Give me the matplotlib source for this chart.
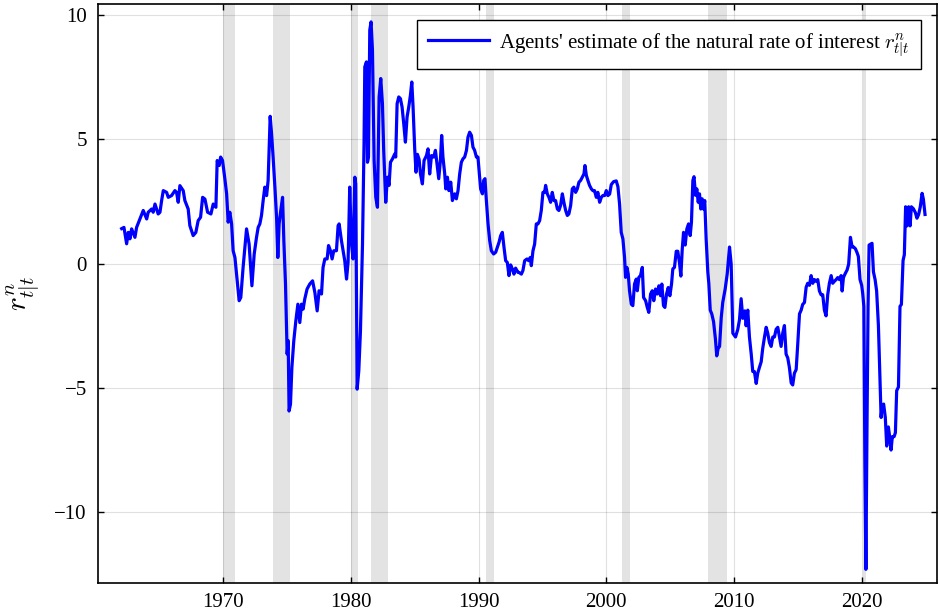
import matplotlib
matplotlib.use("Agg")
import matplotlib.pyplot as plt

plt.rcParams['font.family'] = ['Liberation Serif', 'DejaVu Serif']
plt.rcParams['mathtext.fontset'] = 'cm'

dates = [
    1962.05, 1962.23, 1962.44, 1962.57, 1962.70, 1962.83, 1963.09, 1963.22, 1963.48, 1963.74,
    1964.01, 1964.13, 1964.40, 1964.52, 1964.66, 1964.91, 1965.05, 1965.18, 1965.31, 1965.57,
    1965.70, 1965.96, 1966.22, 1966.35, 1966.48, 1966.61, 1966.87, 1967.00, 1967.26, 1967.39,
    1967.65, 1967.86, 1968.04, 1968.23, 1968.39, 1968.57, 1968.78, 1969.04, 1969.22, 1969.43,
    1969.53, 1969.69, 1969.80, 1969.95,
    1970.13, 1970.27, 1970.39, 1970.52, 1970.66, 1970.78, 1970.92, 1971.05, 1971.25, 1971.38,
    1971.56, 1971.83, 1972.03, 1972.25, 1972.43, 1972.61, 1972.74, 1972.87, 1973.00, 1973.13,
    1973.26, 1973.40, 1973.52, 1973.68, 1973.79, 1973.91, 1974.05, 1974.18, 1974.28, 1974.38,
    1974.51, 1974.65, 1974.75, 1974.88, 1975.01, 1975.09, 1975.16, 1975.27, 1975.38, 1975.53,
    1975.69, 1975.85, 1976.00, 1976.13, 1976.26, 1976.39, 1976.57, 1976.78, 1977.00, 1977.18,
    1977.36, 1977.51, 1977.70, 1977.82, 1977.96, 1978.14, 1978.25, 1978.40, 1978.53, 1978.66,
    1978.87, 1979.00, 1979.08, 1979.26, 1979.39, 1979.52, 1979.66, 1979.78, 1979.91, 1980.05,
    1980.17, 1980.31, 1980.38, 1980.49, 1980.62, 1980.75, 1980.91, 1981.03, 1981.09, 1981.22,
    1981.30, 1981.38, 1981.48, 1981.58, 1981.69, 1981.82, 1981.95, 1982.08, 1982.21, 1982.34,
    1982.47, 1982.57, 1982.73, 1982.86, 1982.99, 1983.10, 1983.26, 1983.44, 1983.51, 1983.62,
    1983.75, 1983.88, 1984.01, 1984.14, 1984.27, 1984.40, 1984.53, 1984.66, 1984.77, 1984.87,
    1985.00, 1985.10, 1985.21, 1985.34, 1985.45, 1985.60, 1985.73, 1985.92, 1986.04, 1986.17,
    1986.31, 1986.49, 1986.62, 1986.74, 1986.88, 1987.01, 1987.11, 1987.21, 1987.35, 1987.43,
    1987.56, 1987.68, 1987.82, 1987.95, 1988.13, 1988.26, 1988.39, 1988.52, 1988.65, 1988.78,
    1988.91, 1989.05, 1989.17, 1989.30, 1989.44, 1989.56, 1989.69, 1989.83, 1989.95, 1990.03,
    1990.16, 1990.30, 1990.40, 1990.50, 1990.61, 1990.74, 1990.87, 1991.00, 1991.18, 1991.34,
    1991.47, 1991.60, 1991.73, 1991.86, 1991.99, 1992.12, 1992.25, 1992.38, 1992.51, 1992.64,
    1992.77, 1992.90, 1993.08, 1993.16, 1993.35, 1993.47, 1993.61, 1993.79, 1993.92, 1994.05,
    1994.13, 1994.26, 1994.39, 1994.52, 1994.65, 1994.78, 1994.91, 1995.04, 1995.17, 1995.25,
    1995.38, 1995.51, 1995.64, 1995.77, 1995.90, 1996.03, 1996.17, 1996.29, 1996.42, 1996.56,
    1996.68, 1996.82, 1996.95, 1997.07, 1997.21, 1997.34, 1997.46, 1997.60, 1997.73, 1997.86,
    1997.99, 1998.12, 1998.25, 1998.33, 1998.44, 1998.56, 1998.69, 1998.83, 1998.95, 1999.08,
    1999.22, 1999.34, 1999.48, 1999.61, 1999.73, 1999.87, 2000.00, 2000.13, 2000.26, 2000.39,
    2000.57, 2000.78, 2000.91, 2001.04, 2001.17, 2001.30, 2001.43, 2001.51, 2001.61, 2001.72,
    2001.82, 2001.96, 2002.08, 2002.21, 2002.35, 2002.43, 2002.55, 2002.68, 2002.82, 2002.92,
    2003.08, 2003.21, 2003.33, 2003.47, 2003.60, 2003.72, 2003.86, 2003.99, 2004.12, 2004.25,
    2004.35, 2004.48, 2004.59, 2004.72, 2004.85, 2004.98, 2005.11, 2005.21, 2005.34, 2005.48,
    2005.60, 2005.74, 2005.84, 2005.95, 2006.05, 2006.18, 2006.31, 2006.44, 2006.57, 2006.67,
    2006.78, 2006.87, 2006.99, 2007.09, 2007.20, 2007.30, 2007.40, 2007.51, 2007.61, 2007.71,
    2007.82, 2007.95, 2008.03, 2008.14, 2008.26, 2008.40, 2008.55, 2008.65, 2008.76, 2008.87,
    2009.00, 2009.12, 2009.31, 2009.47, 2009.65, 2009.78, 2009.91, 2010.12, 2010.30, 2010.43,
    2010.56, 2010.69, 2010.85, 2010.95, 2011.08, 2011.21, 2011.35, 2011.47, 2011.60, 2011.74,
    2011.86, 2011.99, 2012.13, 2012.25, 2012.39, 2012.52, 2012.64, 2012.78, 2012.91, 2013.04,
    2013.17, 2013.30, 2013.43, 2013.56, 2013.69, 2013.82, 2013.95, 2014.08, 2014.21, 2014.34,
    2014.48, 2014.60, 2014.73, 2014.87, 2014.99, 2015.13, 2015.26, 2015.38, 2015.52, 2015.65,
    2015.77, 2015.91, 2016.04, 2016.17, 2016.30, 2016.43, 2016.56, 2016.69, 2016.82, 2016.95,
    2017.08, 2017.21, 2017.34, 2017.47, 2017.61, 2017.73, 2017.86, 2018.00, 2018.12, 2018.25,
    2018.39, 2018.47, 2018.57, 2018.70, 2018.86, 2018.98, 2019.12, 2019.25, 2019.37, 2019.51,
    2019.64, 2019.74, 2019.87, 2020.00, 2020.08, 2020.17, 2020.25, 2020.33, 2020.42, 2020.50,
    2020.58, 2020.81, 2020.92, 2021.05, 2021.17, 2021.31, 2021.44, 2021.52, 2021.60, 2021.72,
    2021.85, 2021.96, 2022.09, 2022.19, 2022.30, 2022.40, 2022.54, 2022.64, 2022.74, 2022.88,
    2023.00, 2023.11, 2023.24, 2023.34, 2023.44, 2023.55, 2023.68, 2023.79, 2023.89, 2024.05,
    2024.20, 2024.33, 2024.46, 2024.59, 2024.73, 2024.83, 2024.96,
]

r_natural = [
    1.41, 1.46, 0.80, 1.26, 1.00, 1.40, 1.06, 1.46, 1.80, 2.14,
    1.80, 2.07, 2.20, 2.07, 2.40, 2.00, 2.07, 2.54, 2.94, 2.87,
    2.67, 2.74, 2.94, 2.87, 2.47, 3.14, 2.94, 2.54, 2.20, 1.53,
    1.13, 1.26, 1.73, 1.87, 2.67, 2.60, 2.07, 2.00, 2.40, 2.27,
    4.15, 3.95, 4.29, 4.15,
    3.42, 2.81, 1.67, 2.07, 1.60, 0.52, 0.25, -0.42, -1.49, -1.36,
    -0.15, 1.40, 0.79, -0.89, 0.39, 1.06, 1.46, 1.60, 1.94, 2.54,
    3.08, 2.74, 3.35, 5.93, 5.23, 4.29, 3.08, 1.87, 0.25, 1.60,
    2.14, 2.67, 0.93, -0.82, -3.64, -3.10, -5.93, -5.66, -4.18, -3.10,
    -2.30, -1.63, -2.37, -1.63, -1.83, -1.42, -1.02, -0.82, -0.69, -1.16,
    -1.90, -1.09, -1.22, -0.15, 0.19, 0.19, 0.73, 0.52, 0.19, 0.52,
    0.52, 1.53, 1.60, 0.93, 0.52, 0.12, -0.62, 0.05, 3.08, 0.79,
    0.19, 3.48, 3.21, -5.05, -4.31, -2.70, 0.79, 4.83, 7.92, 8.12,
    4.08, 4.29, 9.40, 9.73, 8.59, 4.15, 2.67, 2.27, 6.71, 7.45,
    6.44, 4.56, 2.47, 3.48, 3.15, 4.08, 4.22, 4.42, 4.29, 6.44,
    6.71, 6.64, 6.30, 5.63, 4.89, 5.90, 6.30, 6.77, 7.31, 6.30,
    4.60, 3.68, 4.40, 4.20, 3.61, 3.21, 4.15, 4.35, 4.62, 3.61,
    4.35, 4.29, 4.56, 4.02, 3.42, 4.15, 5.16, 4.29, 3.61, 3.01,
    3.48, 2.94, 3.28, 2.54, 2.81, 2.61, 2.94, 3.61, 4.08, 4.22,
    4.29, 4.56, 5.09, 5.29, 5.16, 4.69, 4.56, 4.29, 4.29, 3.82,
    3.01, 2.81, 3.35, 3.42, 2.54, 1.60, 0.93, 0.52, 0.39, 0.46,
    0.66, 0.86, 1.13, 1.26, 0.66, 0.12, 0.05, -0.48, -0.05, -0.21,
    -0.42, -0.18, -0.35, -0.35, -0.42, -0.28, 0.12, 0.19, 0.12, 0.25,
    -0.08, 0.52, 0.79, 1.60, 1.60, 1.73, 2.14, 2.87, 2.87, 3.15,
    2.81, 2.67, 2.47, 2.87, 2.54, 2.54, 2.20, 2.14, 2.34, 2.81,
    2.47, 2.14, 1.94, 2.00, 2.34, 3.01, 3.08, 2.87, 3.01, 3.28,
    3.35, 3.48, 3.61, 3.95, 3.55, 3.35, 3.15, 3.01, 2.94, 2.94,
    2.67, 2.87, 2.47, 2.67, 2.74, 2.74, 2.94, 2.74, 2.80, 3.18,
    3.30, 3.33, 3.10, 2.40, 1.26, 1.00, 0.25, -0.55, -0.15, -0.42,
    -1.09, -1.63, -1.69, -0.82, -0.62, -1.09, -0.55, -0.48, -0.15, -1.36,
    -1.49, -1.76, -1.96, -1.22, -1.09, -1.49, -1.02, -1.22, -0.89, -1.29,
    -0.82, -1.69, -1.76, -1.22, -0.96, -1.29, -0.82, -0.21, -0.15, 0.50,
    0.50, 0.00, -0.50, 0.60, 1.26, 0.75, 1.40, 1.60, 1.13, 1.67,
    3.35, 3.50, 2.75, 3.01, 2.47, 2.81, 2.20, 2.61, 2.20, 2.54,
    1.00, -0.33, -0.80, -1.87, -2.02, -2.33, -3.05, -3.71, -3.41, -3.33,
    -2.18, -1.56, -1.02, -0.41, 0.67, -0.02, -2.80, -2.95, -2.64, -2.26,
    -1.41, -2.20, -1.90, -2.50, -1.87, -2.95, -3.64, -4.34, -4.34, -4.82,
    -4.41, -4.18, -3.95, -3.41, -2.95, -2.56, -2.79, -3.18, -3.33, -2.95,
    -2.95, -2.64, -2.56, -2.95, -3.33, -2.79, -2.49, -3.64, -3.79, -4.18,
    -4.80, -4.88, -4.41, -4.26, -3.26, -2.02, -1.87, -1.64, -1.56, -0.95,
    -0.79, -0.87, -0.48, -0.79, -0.64, -0.71, -0.64, -1.10, -1.25, -1.25,
    -1.87, -2.10, -1.25, -0.79, -0.48, -0.79, -0.71, -0.64, -0.56, -0.64,
    -0.48, -1.10, -0.56, -0.41, -0.25, -0.02, 1.06, 0.67, 0.67, 0.60,
    0.44, 0.29, -0.64, -0.87, -1.20, -1.72, -8.00, -12.30, -6.30, -1.70,
    0.75, 0.82, -0.33, -0.64, -1.10, -2.49, -4.80, -6.19, -5.73, -5.65,
    -6.19, -7.34, -6.57, -6.96, -7.50, -6.96, -6.96, -6.80, -5.11, -4.96,
    -1.72, -1.64, 0.13, 0.36, 2.29, 1.52, 2.29, 1.52, 2.29, 2.21,
    2.06, 1.83, 1.98, 2.29, 2.83, 2.60, 1.98,
]

recession_starts = [1969.95, 1973.90, 1980.00, 1981.58, 1990.58, 2001.22, 2007.98, 2020.08]
recession_ends = [1970.90, 1975.22, 1980.58, 1982.90, 1991.24, 2001.88, 2009.47, 2020.34]

x_ticks = [1970, 1980, 1990, 2000, 2010, 2020]
y_ticks = [-10, -5, 0, 5, 10]

fig = plt.figure(figsize=(9.39, 6.14), dpi=100)
ax = fig.add_axes([0.1044, 0.0505, 0.8935, 0.943])

for s, e in zip(recession_starts, recession_ends):
    ax.axvspan(s, e, color='#e3e3e3', lw=0, zorder=0)

ax.plot(dates, r_natural, color='#0000ff', lw=2.3, zorder=3,
        label="Agents' estimate of the natural rate of interest $r^n_{t|t}$")

ax.set_xlim(1960.2, 2025.9)
ax.set_ylim(-12.85, 10.45)
ax.set_xticks(x_ticks)
ax.set_yticks(y_ticks)
ax.grid(True, color='#000000', alpha=0.12, lw=0.8, zorder=1)
ax.set_axisbelow(True)

ax.tick_params(direction='in', length=4, width=1.0, top=True, right=True,
               labelsize=15, colors='black')
ax.tick_params(axis='x', pad=7)
ax.tick_params(axis='y', pad=8)
for sp in ax.spines.values():
    sp.set_linewidth(1.2)
    sp.set_color('black')

ax.set_ylabel(r'$r^n_{t|t}$', fontsize=21, labelpad=9)

leg = ax.legend(loc='upper right', bbox_to_anchor=(0.981, 0.973), borderaxespad=0,
                fontsize=15, frameon=True, fancybox=False, handlelength=2.9,
                borderpad=0.55, handletextpad=0.5)
leg.get_frame().set_edgecolor('black')
leg.get_frame().set_linewidth(1.0)
leg.get_frame().set_alpha(1.0)

fig.savefig('out.png', dpi=100)
